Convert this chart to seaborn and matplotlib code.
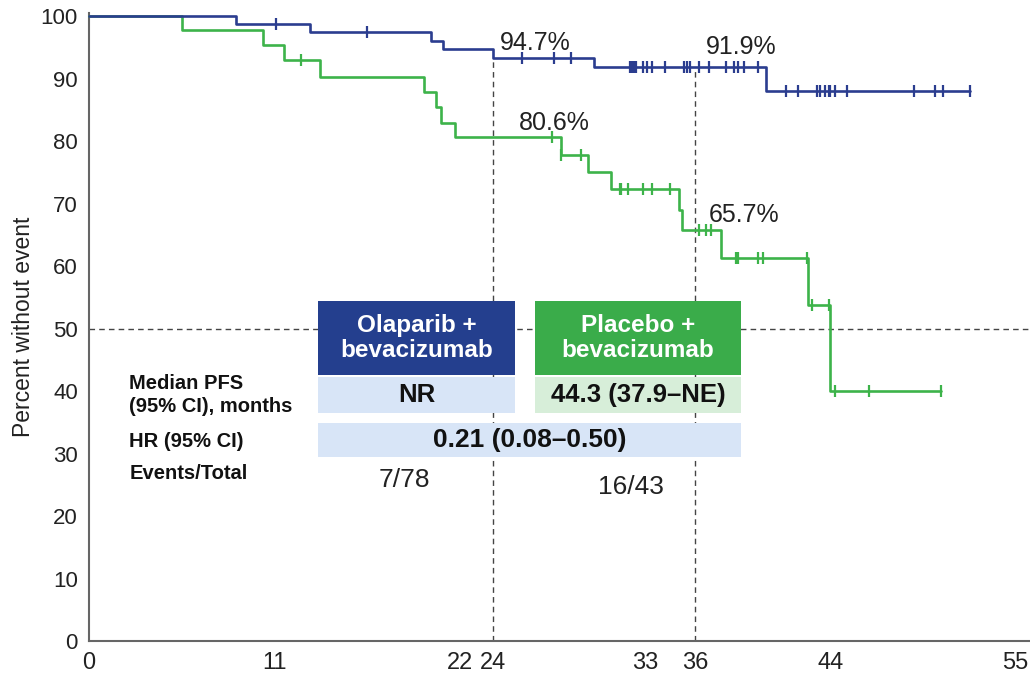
import numpy as np
import pandas as pd
import matplotlib
matplotlib.use("Agg")
import matplotlib.pyplot as plt
from matplotlib.patches import Rectangle
from matplotlib import font_manager
import seaborn as sns

# ---------------- data ----------------
blue_event_t = [0, 8.7, 13.1, 20.3, 21.0, 24.0, 30.0, 40.2]
blue_surv = [100, 98.7, 97.4, 96.0, 94.7, 93.3, 91.9, 88.0]
blue_end = 52.3
blue_cens_t = [11.1, 16.5, 25.7, 27.6, 28.6, 32.1, 32.2, 32.3, 32.4, 32.5, 32.9,
               33.1, 33.4, 34.2, 35.3, 35.5, 35.7, 36.2, 36.8, 37.8, 38.3, 38.5,
               38.9, 39.7, 41.4, 42.1, 43.2, 43.4, 43.7, 43.9, 44.0, 44.3, 45.0,
               49.0, 50.2, 50.7, 52.3]

green_event_t = [0, 5.5, 10.3, 11.6, 13.7, 19.9, 20.6, 20.9, 21.7, 28.0, 29.6,
                 31.0, 35.0, 35.2, 37.5, 42.7, 44.0]
green_surv = [100, 97.7, 95.3, 93.0, 90.3, 87.9, 85.4, 82.9, 80.6, 77.8, 75.1,
              72.4, 69.0, 65.7, 61.3, 53.7, 40.0]
green_end = 50.6
green_cens_t = [12.6, 27.5, 28.0, 29.2, 31.5, 31.6, 32.0, 32.9, 33.4, 34.5, 36.2,
                36.6, 36.9, 38.4, 38.5, 39.7, 40.0, 42.6, 42.9, 43.9, 44.3, 46.3, 50.6]

x_ticks = [0, 11, 22, 24, 33, 36, 44, 55]
y_ticks = list(range(0, 101, 10))
landmark_t = [24, 36]
blue_landmark = [94.7, 91.9]
green_landmark = [80.6, 65.7]
group_names = ["Olaparib +\nbevacizumab", "Placebo +\nbevacizumab"]
median_pfs = ["NR", "44.3 (37.9–NE)"]
hr_text = "0.21 (0.08–0.50)"
events_total = ["7/78", "16/43"]
row_labels = ["Median PFS\n(95% CI), months", "HR (95% CI)", "Events/Total"]

# ---------------- style ----------------
sns.set_style("white")
names = {f.name for f in font_manager.fontManager.ttflist}
REG = "Liberation Sans" if "Liberation Sans" in names else "DejaVu Sans"
plt.rcParams["font.family"] = [REG, "DejaVu Sans"]

BLUE = "#2b3d8f"
GREEN = "#3db34a"
HDR_BLUE = "#243f8e"
HDR_GREEN = "#3aac4a"
LT_BLUE = "#d8e5f7"
LT_GREEN = "#d7eed9"
DASH = "#444444"

fig = plt.figure(figsize=(10.30, 6.81), dpi=100)
ax = fig.add_axes([89 / 1030, 40 / 681, 940 / 1030, 628 / 681])


def step_frame(ev_t, surv, end):
    t = list(ev_t) + [end]
    s = list(surv) + [surv[-1]]
    return pd.DataFrame({"t": t, "s": s})


def km_at(times, ev_t, surv):
    idx = np.searchsorted(np.array(ev_t), np.array(times), side="right") - 1
    return np.array(surv)[idx]


bdf = step_frame(blue_event_t, blue_surv, blue_end)
gdf = step_frame(green_event_t, green_surv, green_end)

# reference dashed lines
ax.axhline(50, color=DASH, lw=1.0, ls=(0, (4, 3)), zorder=1)
for t, yv in zip(landmark_t, km_at(landmark_t, blue_event_t, blue_surv)):
    ax.plot([t, t], [0, yv], color=DASH, lw=1.0, ls=(0, (4, 3)), zorder=1)

sns.lineplot(data=gdf, x="t", y="s", drawstyle="steps-post", estimator=None,
             sort=False, color=GREEN, lw=1.9, ax=ax, zorder=3)
sns.lineplot(data=bdf, x="t", y="s", drawstyle="steps-post", estimator=None,
             sort=False, color=BLUE, lw=1.9, ax=ax, zorder=4)
for l in ax.lines:
    l.set_clip_on(False)

gc = pd.DataFrame({"t": green_cens_t, "s": km_at(green_cens_t, green_event_t, green_surv)})
bc = pd.DataFrame({"t": blue_cens_t, "s": km_at(blue_cens_t, blue_event_t, blue_surv)})
sns.scatterplot(data=gc, x="t", y="s", marker="|", s=80, linewidth=1.6,
                color=GREEN, ax=ax, zorder=3, clip_on=False)
sns.scatterplot(data=bc, x="t", y="s", marker="|", s=80, linewidth=1.6,
                color=BLUE, ax=ax, zorder=4, clip_on=False)

# landmark annotations
ax.text(24.4, 95.7, f"{blue_landmark[0]}%", fontsize=18, ha="left", va="center", color="#222222", zorder=6)
ax.text(36.6, 95.0, f"{blue_landmark[1]}%", fontsize=18, ha="left", va="center", color="#222222", zorder=6)
ax.text(25.5, 82.9, f"{green_landmark[0]}%", fontsize=18, ha="left", va="center", color="#222222", zorder=6)
ax.text(36.8, 68.2, f"{green_landmark[1]}%", fontsize=18, ha="left", va="center", color="#222222", zorder=6)

# ---------------- table ----------------
bx0, bx1 = 13.6, 25.3
gx0, gx1 = 26.5, 38.7
h_top, h_bot = 54.4, 42.6
c_top, c_bot = 42.3, 36.5
r_top, r_bot = 34.9, 29.4

ax.add_patch(Rectangle((bx0, h_bot), bx1 - bx0, h_top - h_bot, color=HDR_BLUE, zorder=5, lw=0))
ax.add_patch(Rectangle((gx0, h_bot), gx1 - gx0, h_top - h_bot, color=HDR_GREEN, zorder=5, lw=0))
ax.add_patch(Rectangle((bx0, c_bot), bx1 - bx0, c_top - c_bot, color=LT_BLUE, zorder=5, lw=0))
ax.add_patch(Rectangle((gx0, c_bot), gx1 - gx0, c_top - c_bot, color=LT_GREEN, zorder=5, lw=0))
ax.add_patch(Rectangle((bx0, r_bot), gx1 - bx0, r_top - r_bot, color=LT_BLUE, zorder=5, lw=0))

ax.text((bx0 + bx1) / 2, (h_top + h_bot) / 2, group_names[0], color="white", fontweight="bold",
        fontsize=17.5, ha="center", va="center", linespacing=1.1, zorder=6)
ax.text((gx0 + gx1) / 2, (h_top + h_bot) / 2, group_names[1], color="white", fontweight="bold",
        fontsize=17.5, ha="center", va="center", linespacing=1.1, zorder=6)
ax.text((bx0 + bx1) / 2, (c_top + c_bot) / 2, median_pfs[0], fontweight="bold", fontsize=18.5,
        ha="center", va="center", color="#111111", zorder=6)
ax.text((gx0 + gx1) / 2, (c_top + c_bot) / 2, median_pfs[1], fontweight="bold", fontsize=18.5,
        ha="center", va="center", color="#111111", zorder=6)
ax.text((bx0 + gx1) / 2, (r_top + r_bot) / 2, hr_text, fontweight="bold", fontsize=19,
        ha="center", va="center", color="#111111", zorder=6)
ax.text(18.7, 25.7, events_total[0], fontsize=19, ha="center", va="center",
        color="#222222", zorder=6)
ax.text(32.2, 24.6, events_total[1], fontsize=19, ha="center", va="center",
        color="#222222", zorder=6)

ax.text(2.4, 39.4, row_labels[0], fontweight="bold", fontsize=14.5, ha="left", va="center",
        linespacing=1.25, color="#111111", zorder=6)
ax.text(2.4, 32.0, row_labels[1], fontweight="bold", fontsize=14.5, ha="left", va="center",
        color="#111111", zorder=6)
ax.text(2.4, 26.8, row_labels[2], fontweight="bold", fontsize=14.5, ha="left", va="center",
        color="#111111", zorder=6)

# ---------------- axes ----------------
ax.set_xlim(0, 55.8)
ax.set_ylim(0, 100.5)
ax.set_xticks(x_ticks)
ax.set_xticklabels([str(v) for v in x_ticks], fontsize=17, color="#222222")
ax.set_yticks(y_ticks)
ax.set_yticklabels([str(v) for v in y_ticks], fontsize=16, color="#222222")
ax.set_xlabel("")
ax.set_ylabel("Percent without event", fontsize=16.5, color="#222222", labelpad=4)
for side in ["top", "right"]:
    ax.spines[side].set_visible(False)
for side in ["left", "bottom"]:
    ax.spines[side].set_color("#666666")
    ax.spines[side].set_linewidth(1.5)
ax.tick_params(axis="both", direction="out", length=5, width=1.2, color="#666666", pad=3)
ax.tick_params(axis="x", pad=3)

fig.savefig("out.png", dpi=100)
